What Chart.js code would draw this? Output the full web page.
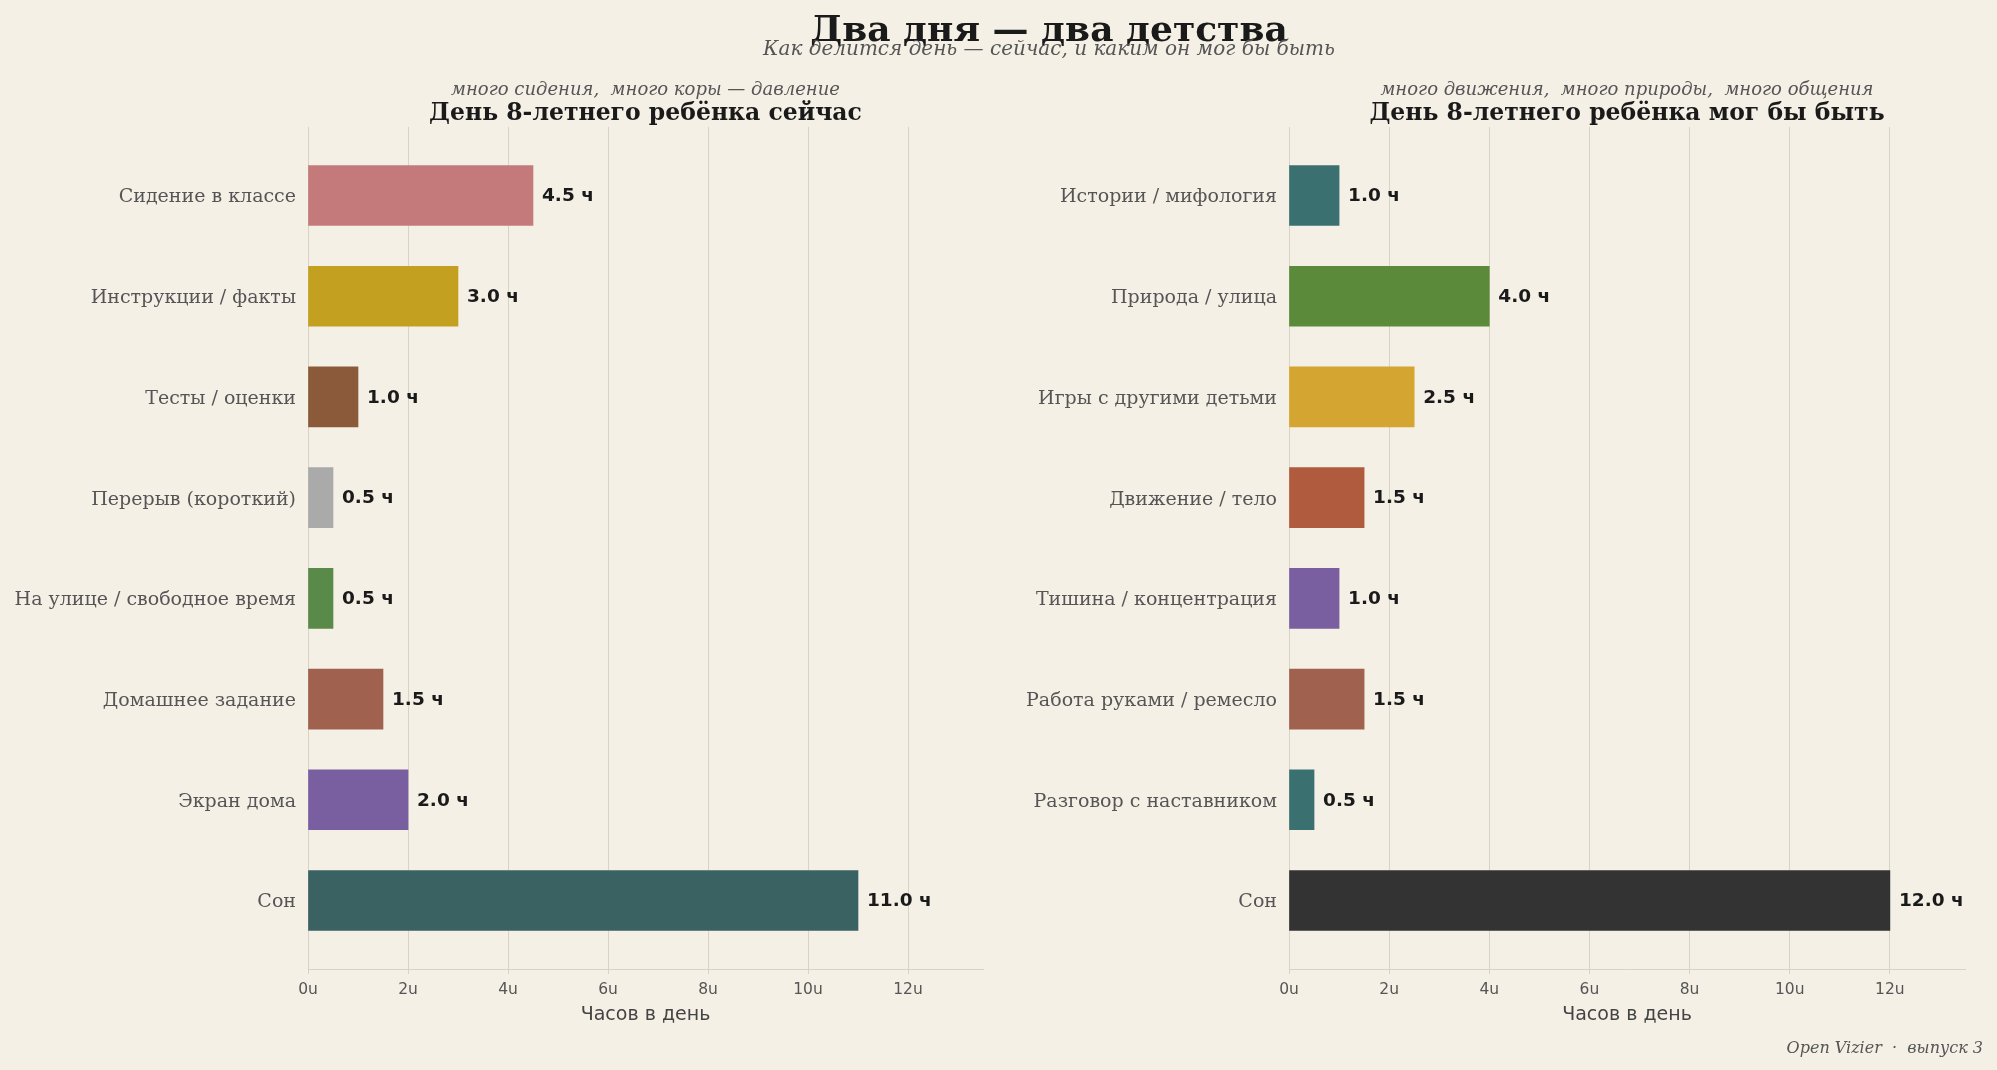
<!DOCTYPE html>
<html>
<head>
<meta charset="utf-8">
<script src="https://cdn.jsdelivr.net/npm/chart.js@4.4.1/dist/chart.umd.min.js"></script>
<style>
  html, body { margin: 0; padding: 0; background: #f5f0e6; }
  #page { position: relative; width: 1997px; height: 1070px; overflow: hidden; background: #f5f0e6; }
  canvas { position: absolute; top: 0; }
  .txt { position: absolute; transform: translateY(-50%); white-space: pre; font-family: "DejaVu Serif", serif; }
  .c { text-align: center; }
</style>
</head>
<body>
<div id="page">
  <canvas id="leftChart" width="995" height="1070" style="left:0"></canvas>
  <canvas id="rightChart" width="1002" height="1070" style="left:995px"></canvas>

  <div class="txt c" style="left:49px; width:2000px; top:28px; font-size:36px; font-weight:bold; color:#1a1a1a">Два дня — два детства</div>
  <div class="txt c" style="left:49px; width:2000px; top:48px; font-size:20px; font-style:italic; color:#555">Как делится день — сейчас, и каким он мог бы быть</div>

  <div class="txt c" style="left:308px; width:675px; top:88px; font-size:18px; font-style:italic; color:#555">много сидения,  много коры — давление</div>
  <div class="txt c" style="left:308px; width:675px; top:112px; font-size:23.5px; font-weight:bold; color:#1a1a1a">День 8-летнего ребёнка сейчас</div>

  <div class="txt c" style="left:1289px; width:676px; top:88px; font-size:18px; font-style:italic; color:#555">много движения,  много природы,  много общения</div>
  <div class="txt c" style="left:1289px; width:676px; top:112px; font-size:23.5px; font-weight:bold; color:#1a1a1a">День 8-летнего ребёнка мог бы быть</div>

  <div class="txt" style="right:14px; top:1047px; font-size:16px; font-style:italic; color:#555">Open Vizier  ·  выпуск 3</div>
</div>
<script>
// left panel: the day now
var leftLabels = ["Сидение в классе", "Инструкции / факты", "Тесты / оценки", "Перерыв (короткий)",
                  "На улице / свободное время", "Домашнее задание", "Экран дома", "Сон"]
var leftHours = [4.5, 3.0, 1.0, 0.5, 0.5, 1.5, 2.0, 11.0]
var leftColors = ["#c47a7a", "#c4a020", "#8b5a3a", "#aaaaaa", "#5a8a4a", "#a0614e", "#7a5fa0", "#3a6262"]

// right panel: the day it could be
var rightLabels = ["Истории / мифология", "Природа / улица", "Игры с другими детьми", "Движение / тело",
                   "Тишина / концентрация", "Работа руками / ремесло", "Разговор с наставником", "Сон"]
var rightHours = [1.0, 4.0, 2.5, 1.5, 1.0, 1.5, 0.5, 12.0]
var rightColors = ["#3a7070", "#5a8a3a", "#d4a530", "#b05a3e", "#7a5fa0", "#a0614e", "#3a7070", "#333333"]

var xTicks = [0, 2, 4, 6, 8, 10, 12]

var gridColor = "#d9d3c7"

var valueLabels = {
	id: "valueLabels",
	afterDatasetsDraw: function(chart) {
		var ctx = chart.ctx
		var meta = chart.getDatasetMeta(0)
		ctx.save()
		ctx.font = 'bold 18.5px "DejaVu Sans"'
		ctx.fillStyle = "#1a1a1a"
		ctx.textBaseline = "middle"
		ctx.textAlign = "left"
		meta.data.forEach(function(bar, i) {
			var v = chart.data.datasets[0].data[i].x
			ctx.fillText(v.toFixed(1) + " ч", bar.x + 9, bar.y + 1)
		})
		ctx.restore()
	}
}

function makeChart(id, labels, hours, colors, yWidth, padRight) {
	var points = []
	for (var i = 0; i < hours.length; i++) {
		points.push({x: hours[i], y: i})
	}
	var ctx = document.getElementById(id).getContext("2d")
	return new Chart(ctx, {
		type: "bar",
		data: {
			datasets: [{
				data: points,
				backgroundColor: colors,
				borderWidth: 0,
				barThickness: 60
			}]
		},
		plugins: [valueLabels],
		options: {
			indexAxis: "y",
			responsive: false,
			animation: false,
			layout: {padding: {top: 127, right: padRight, bottom: 44, left: 0}},
			plugins: {legend: {display: false}, tooltip: {enabled: false}},
			scales: {
				x: {
					type: "linear",
					min: 0,
					max: 13.5,
					afterBuildTicks: function(s) {
						s.ticks = xTicks.map(function(v) { return {value: v} })
					},
					afterFit: function(s) { s.height = 57 },
					grid: {color: gridColor, lineWidth: 1, tickLength: 5, tickColor: gridColor},
					border: {color: gridColor, width: 1},
					ticks: {
						color: "#555",
						padding: 7,
						font: {family: "DejaVu Sans", size: 15.5},
						callback: function(v) { return v + "u" }
					},
					title: {
						display: true,
						text: "Часов в день",
						color: "#444",
						padding: {top: 0, bottom: 0},
						font: {family: "DejaVu Sans", size: 19}
					}
				},
				y: {
					type: "linear",
					reverse: true,
					min: -0.68,
					max: 7.68,
					offset: false,
					afterBuildTicks: function(s) {
						s.ticks = labels.map(function(l, i) { return {value: i} })
					},
					afterFit: function(s) { s.width = yWidth },
					grid: {display: false, drawTicks: false, offset: false},
					border: {display: false},
					ticks: {
						color: "#555",
						padding: 12,
						labelOffset: 2,
						font: {family: "DejaVu Serif", size: 19},
						callback: function(v) { return labels[v] }
					}
				}
			}
		}
	})
}

makeChart("leftChart", leftLabels, leftHours, leftColors, 308, 12)
makeChart("rightChart", rightLabels, rightHours, rightColors, 294, 32)
</script>
</body>
</html>
